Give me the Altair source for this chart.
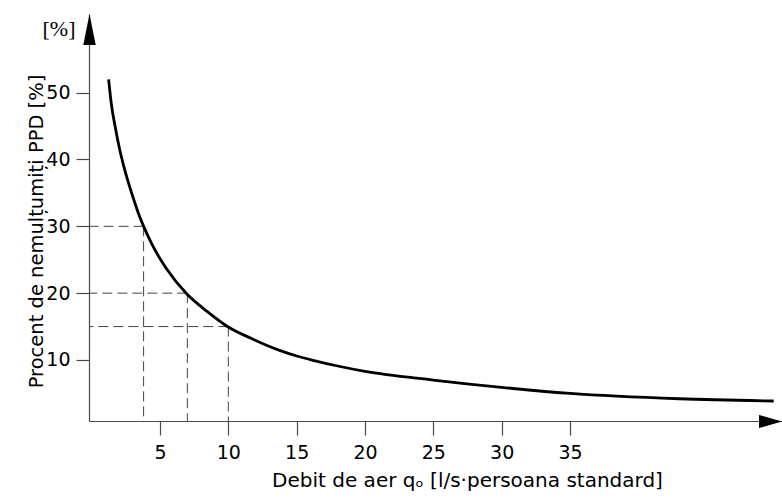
import altair as alt
import pandas as pd

# ---- data ----
flow = [1.24, 1.46, 1.71, 2.07, 2.44, 2.8, 3.05, 3.41, 3.78, 4.39, 5.49,
        6.95, 8.42, 9.9, 11.7, 13.8, 15, 16.2, 18, 20, 25, 30, 35, 43, 49.9]
ppd = [52.0, 48.0, 45.0, 41.3, 38.3, 35.8, 34.2, 32.0, 30.1, 27.4, 23.6,
       19.9, 17.3, 15.05, 13.2, 11.4, 10.6, 9.95, 9.1, 8.3, 7.0, 5.9, 5.0,
       4.2, 3.86]

guide_flow = [3.8, 7, 10]
guide_ppd = [30, 20, 15]

x_ticks = [5, 10, 15, 20, 25, 30, 35]
y_ticks = [10, 20, 30, 40, 50]

x_title = "Debit de aer qₒ [l/s·persoana standard]"
y_title = "Procent de nemulțumiți PPD [%]"
unit_label = "[%]"

W, H = 693, 407
FONT = "DejaVu Sans"
AX = "#4a4a4a"

curve_df = pd.DataFrame({"flow": flow, "ppd": ppd})
guide_df = pd.DataFrame({"flow": guide_flow, "ppd": guide_ppd})
one = pd.DataFrame({"k": [0]})

xenc = alt.X("flow:Q",
             scale=alt.Scale(domain=[-0.195, 50.51], nice=False, zero=False),
             axis=alt.Axis(values=x_ticks, title=None, grid=False, tickSize=14,
                           labelPadding=8, labelFontSize=19, labelFont=FONT,
                           labelColor="black", domainColor=AX, tickColor=AX,
                           domainWidth=1.2, tickWidth=1.2, labelFlush=False))
yenc = alt.Y("ppd:Q",
             scale=alt.Scale(domain=[0.87, 61.77], nice=False, zero=False),
             axis=alt.Axis(values=y_ticks, title=None, grid=False, tickSize=13,
                           labelPadding=6, labelFontSize=19, labelFont=FONT,
                           labelColor="black", domainColor=AX, tickColor=AX,
                           domainWidth=1.2, tickWidth=1.2, labelFlush=False))

h_guides = alt.Chart(guide_df).mark_rule(
    color="#444", strokeWidth=1, strokeDash=[10, 5]
).encode(x=xenc, x2=alt.value(0), y=yenc)

v_guides = alt.Chart(guide_df).mark_rule(
    color="#444", strokeWidth=1, strokeDash=[10, 5]
).encode(x=xenc, y=yenc, y2=alt.value(H))

curve = alt.Chart(curve_df).mark_line(
    color="black", strokeWidth=2.8, interpolate="monotone"
).encode(x=xenc, y=yenc)

y_arrow = alt.Chart(one).mark_point(
    shape="M0,-1L0.4,1L-0.4,1Z", size=961, filled=True, color="black",
    opacity=1, strokeWidth=0
).encode(x=alt.value(0.5), y=alt.value(15.5))

x_arrow = alt.Chart(one).mark_point(
    shape="M1,0L-1,-0.57L-1,0.57Z", size=529, filled=True, color="black",
    opacity=1, strokeWidth=0
).encode(x=alt.value(W - 11.5), y=alt.value(H + 0.5))

unit_text = alt.Chart(one).mark_text(
    text=unit_label, font="Liberation Serif", fontSize=22, align="center",
    baseline="middle", color="black"
).encode(x=alt.value(59 - 89), y=alt.value(29 - 14))

ytitle_text = alt.Chart(one).mark_text(
    text=y_title, font=FONT, fontSize=19.5, align="center",
    baseline="alphabetic", angle=270, color="black"
).encode(x=alt.value(43 - 89), y=alt.value(231.5 - 14))

xtitle_text = alt.Chart(one).mark_text(
    text=x_title, font=FONT, fontSize=20, align="center",
    baseline="alphabetic", color="black"
).encode(x=alt.value(467.5 - 89), y=alt.value(487 - 14))

chart = alt.layer(
    h_guides, v_guides, curve, y_arrow, x_arrow,
    unit_text, ytitle_text, xtitle_text
).properties(
    width=W, height=H,
    autosize=alt.AutoSizeParams(type="none"),
    padding={"left": 89, "top": 14, "right": 0, "bottom": 78},
    background="white",
).configure_view(stroke=None)

chart.save("out.html", embed_options={"renderer": "svg", "actions": False})
